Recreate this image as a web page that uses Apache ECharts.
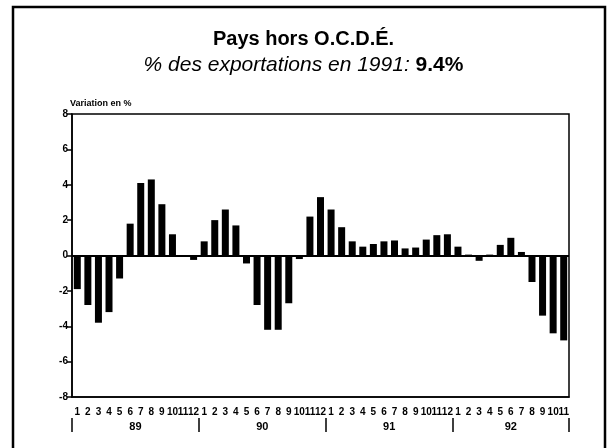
<!DOCTYPE html>
<html>
<head>
<meta charset="utf-8">
<script src="https://cdn.jsdelivr.net/npm/echarts@6/dist/echarts.min.js"></script>
<style>
  html, body { margin: 0; padding: 0; background: #fff; }
  #chart { width: 607px; height: 448px; }
</style>
</head>
<body>
<div id="chart"></div>
<script>
// monthly change, % — one array per year
const years = ['89', '90', '91', '92'];
const v89 = [-1.9, -2.8, -3.8, -3.2, -1.3, 1.8, 4.1, 4.3, 2.9, 1.2, -0.05, -0.25];
const v90 = [0.8, 2.0, 2.6, 1.7, -0.45, -2.8, -4.2, -4.2, -2.7, -0.2, 2.2, 3.3];
const v91 = [2.6, 1.6, 0.8, 0.5, 0.65, 0.8, 0.85, 0.4, 0.45, 0.9, 1.15, 1.2];
const v92 = [0.5, 0.05, -0.3, 0.05, 0.6, 1.0, 0.2, -1.5, -3.4, -4.4, -4.8];
const yTicks = {min: -8, max: 8, interval: 2};

const perYear = [v89, v90, v91, v92];
const months = [];
const values = [];
perYear.forEach(arr => arr.forEach((v, i) => { months.push(String(i + 1)); values.push(v); }));

// year boundaries and centres, in months, from the arrays' lengths
const bounds = [0];
perYear.forEach(arr => bounds.push(bounds[bounds.length - 1] + arr.length));
const centres = years.map((y, i) => (bounds[i] + bounds[i + 1]) / 2);

const FONT = '"Liberation Sans", Arial, sans-serif';
const NARROW = '"Liberation Sans Narrow", "Liberation Sans", Arial, sans-serif';
const gridBox = {left: 72, right: 38, top: 114, bottom: 51};

const chart = echarts.init(document.getElementById('chart'));
chart.setOption({
  animation: false,
  backgroundColor: '#fff',
  title: [{
    text: 'Pays hors O.C.D.É.',
    left: 'center',
    top: 24,
    textStyle: {fontFamily: FONT, fontSize: 20, fontWeight: 'bold', color: '#000'}
  }, {
    text: '{i|% des exportations en 1991: }{b|9.4%}',
    left: 'center',
    top: 50,
    textStyle: {
      fontWeight: 'normal',
      rich: {
        i: {fontFamily: FONT, fontSize: 21, fontStyle: 'italic', fontWeight: 'normal', color: '#000'},
        b: {fontFamily: FONT, fontSize: 21, fontStyle: 'normal', fontWeight: 'bold', color: '#000'}
      }
    }
  }],
  graphic: [{
    type: 'rect',
    shape: {x: 13, y: 7, width: 592, height: 460},
    style: {fill: 'none', stroke: '#000', lineWidth: 2.5}
  }],
  grid: [
    Object.assign({show: true, borderColor: '#000', borderWidth: 1.5}, gridBox),
    Object.assign({}, gridBox),
    Object.assign({}, gridBox)
  ],
  xAxis: [{
    type: 'category',
    gridIndex: 0,
    data: months,
    axisLine: {onZero: false, lineStyle: {color: '#000', width: 1.5}},
    axisTick: {inside: true, length: 4, alignWithLabel: true, interval: 0, lineStyle: {color: '#000', width: 1.5}},
    axisLabel: {interval: 0, margin: 10, fontFamily: NARROW, fontSize: 10, fontWeight: 'bold', color: '#000'}
  }, {
    type: 'category',
    gridIndex: 1,
    data: months,
    axisLine: {show: false, onZero: false},
    axisTick: {inside: false, length: 4, alignWithLabel: true, interval: 0, lineStyle: {color: '#000', width: 1.5}},
    axisLabel: {show: false}
  }, {
    type: 'value',
    gridIndex: 2,
    min: 0,
    max: bounds[bounds.length - 1],
    offset: 21,
    axisLine: {show: false, onZero: false},
    splitLine: {show: false},
    axisTick: {show: true, customValues: bounds, length: 14, lineStyle: {color: '#000', width: 1.5}},
    axisLabel: {
      customValues: centres,
      margin: 3,
      fontFamily: FONT, fontSize: 11, fontWeight: 'bold', color: '#000',
      formatter: v => years[centres.indexOf(v)]
    }
  }],
  yAxis: [{
    type: 'value',
    gridIndex: 0,
    min: yTicks.min,
    max: yTicks.max,
    interval: yTicks.interval,
    name: 'Variation en %',
    nameLocation: 'end',
    nameGap: 6,
    nameTextStyle: {align: 'left', fontFamily: FONT, fontSize: 9, fontWeight: 'bold', color: '#000', padding: [0, 0, 0, -2]},
    axisLine: {show: true, lineStyle: {color: '#000', width: 1.5}},
    axisTick: {show: true, length: 5, lineStyle: {color: '#000', width: 1.5}},
    axisLabel: {margin: 4, fontFamily: FONT, fontSize: 10, fontWeight: 'bold', color: '#000'},
    splitLine: {show: false}
  }, {
    type: 'value', gridIndex: 1, min: yTicks.min, max: yTicks.max, show: false
  }, {
    type: 'value', gridIndex: 2, min: yTicks.min, max: yTicks.max, show: false
  }],
  series: [{
    type: 'bar',
    xAxisIndex: 0,
    yAxisIndex: 0,
    data: values,
    barWidth: 7,
    itemStyle: {color: '#000'},
    markLine: {
      silent: true,
      symbol: 'none',
      label: {show: false},
      lineStyle: {color: '#000', type: 'solid', width: 2},
      data: [{yAxis: 0}]
    }
  }]
});
</script>
</body>
</html>
